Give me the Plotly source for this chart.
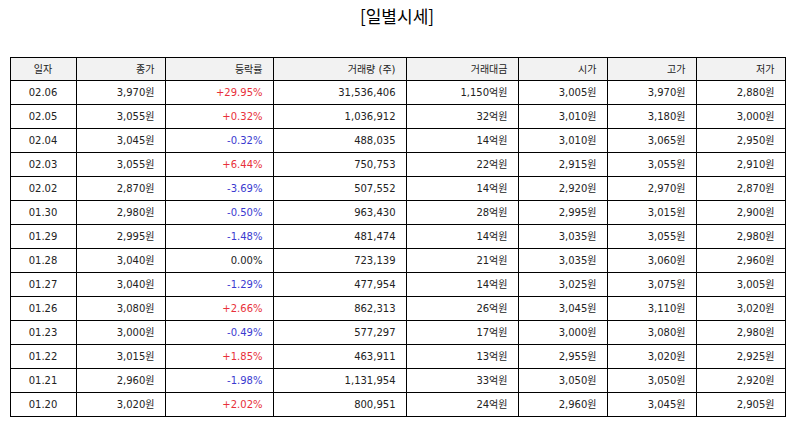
import plotly.graph_objects as go

dates = ["02.06", "02.05", "02.04", "02.03", "02.02", "01.30", "01.29", "01.28",
         "01.27", "01.26", "01.23", "01.22", "01.21", "01.20"]
close = [3970, 3055, 3045, 3055, 2870, 2980, 2995, 3040, 3040, 3080, 3000, 3015, 2960, 3020]
change = [29.95, 0.32, -0.32, 6.44, -3.69, -0.50, -1.48, 0.00, -1.29, 2.66, -0.49, 1.85, -1.98, 2.02]
volume = [31536406, 1036912, 488035, 750753, 507552, 963430, 481474, 723139,
          477954, 862313, 577297, 463911, 1131954, 800951]
amount = [1150, 32, 14, 22, 14, 28, 14, 21, 14, 26, 17, 13, 33, 24]
open_ = [3005, 3010, 3010, 2915, 2920, 2995, 3035, 3035, 3025, 3045, 3000, 2955, 3050, 2960]
high = [3970, 3180, 3065, 3055, 2970, 3015, 3055, 3060, 3075, 3110, 3080, 3020, 3050, 3045]
low = [2880, 3000, 2950, 2910, 2870, 2900, 2980, 2960, 3005, 3020, 2980, 2925, 2920, 2905]
headers = ["일자", "종가", "등락률", "거래량 (주)", "거래대금", "시가", "고가", "저가"]

RED = "#e8303a"
BLUE = "#3a3ad0"
BLACK = "#222222"
FONT = "DejaVu Sans, Noto Sans CJK KR"
PAD = "\u2005"  # slight extra right padding in right-aligned cells

def won(v):
    return f"{v:,}원" + PAD

def pct(v):
    if v > 0:
        return f"+{v:.2f}%" + PAD
    return f"{v:.2f}%" + PAD

pct_colors = [RED if v > 0 else (BLUE if v < 0 else BLACK) for v in change]
n = len(dates)

cols = [
    dates,
    [won(v) for v in close],
    [pct(v) for v in change],
    [f"{v:,}" + PAD for v in volume],
    [f"{v:,}억원" + PAD for v in amount],
    [won(v) for v in open_],
    [won(v) for v in high],
    [won(v) for v in low],
]
font_colors = [[BLACK] * n, [BLACK] * n, pct_colors] + [[BLACK] * n] * 5
header_text = [headers[0]] + [h + PAD for h in headers[1:]]

W, H = 794, 425
widths = [66, 89, 108, 133, 112, 89, 89, 89]
left, right, top = 10, 785, 57

fig = go.Figure(go.Table(
    columnwidth=widths,
    domain=dict(x=[left / W, right / W], y=[0, 1 - top / H]),
    header=dict(
        values=header_text,
        align=["center"] + ["right"] * 7,
        fill_color="#f2f2f2",
        line=dict(color="black", width=1),
        font=dict(family=FONT, size=10, color=BLACK),
        height=23,
    ),
    cells=dict(
        values=cols,
        align=["center"] + ["right"] * 7,
        fill_color="white",
        line=dict(color="black", width=1),
        font=dict(family=FONT, size=10, color=font_colors),
        height=24,
    ),
))

fig.update_layout(
    width=W, height=H,
    margin=dict(l=0, r=0, t=0, b=0),
    paper_bgcolor="white",
    title=dict(text="[일별시세]", x=397 / W, xanchor="center",
               y=1 - 17 / H, yanchor="middle",
               font=dict(family="Noto Sans CJK KR", size=17, color="black")),
)

fig.write_html("out.html", config={"displayModeBar": False},
               post_script="document.body.style.margin='0';")
